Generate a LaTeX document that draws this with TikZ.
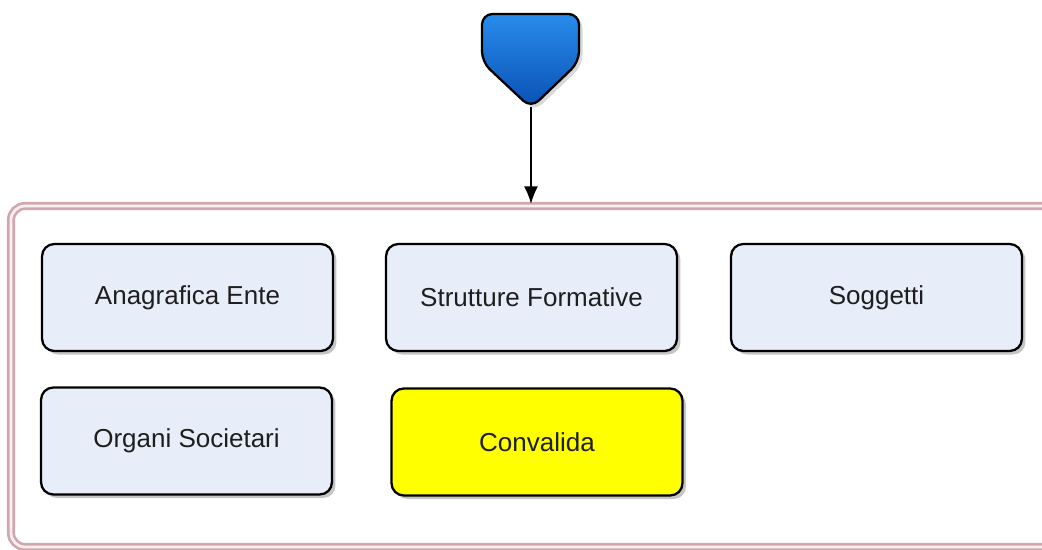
\documentclass[tikz,border=0pt]{standalone}
\usepackage{fontspec}
\setmainfont{Liberation Sans}
\usetikzlibrary{arrows.meta, shadows}
\definecolor{boxfill}{RGB}{232,238,249}
\definecolor{frameline}{RGB}{210,165,175}
\definecolor{shieldtop}{RGB}{40,140,235}
\definecolor{shieldbot}{RGB}{10,80,180}
\definecolor{textgrey}{RGB}{30,30,30}
\tikzset{
  step box/.style = {draw, line width=1.3pt, rounded corners=7pt, fill=boxfill,
    minimum width=5.82cm, minimum height=2.14cm, text=textgrey,
    drop shadow={shadow xshift=2pt, shadow yshift=-2pt, fill=black!45},
    font=\fontsize{14.8}{17}\selectfont},
  ok box/.style = {step box, fill={rgb,255:red,255;green,255;blue,0}}
}

\begin{document}
\begin{tikzpicture}[x=0.02cm, y=-0.02cm]
\useasboundingbox (0,0) rectangle (1042,550);
% frame round the steps
\begin{scope}
\clip (0,0) rectangle (1042,550);
\draw[frameline, line width=1.5pt, double={rgb,255:red,250;green,240;blue,242}, double distance=1.6pt, rounded corners=8pt]
  (11,206) rectangle (1080,547);
\end{scope}
% start shield
\draw[line width=1.3pt, rounded corners=6pt, top color=shieldtop, bottom color=shieldbot,
  drop shadow={shadow xshift=2pt, shadow yshift=-2pt, fill=black!30}]
  (482,14) -- (579,14) -- (579,62) -- (531,108) -- (482,62) -- cycle;
\coordinate (start) at (531,107);
\coordinate (frame) at (531,204);
% steps
\node[step box] (ente) at (187.5,297.5) {Anagrafica Ente};
\node[step box] (strutture) at (531.5,297.5) {Strutture Formative};
\node[step box] (soggetti) at (876.5,297.5) {Soggetti};
\node[step box] (organi) at (186.5,441) {Organi Societari};
\node[ok box] (convalida) at (537,442) {Convalida};
\draw[-{Latex[length=10pt, width=8pt]}, line width=1.2pt] (start) -- (frame);
\end{tikzpicture}
\end{document}
